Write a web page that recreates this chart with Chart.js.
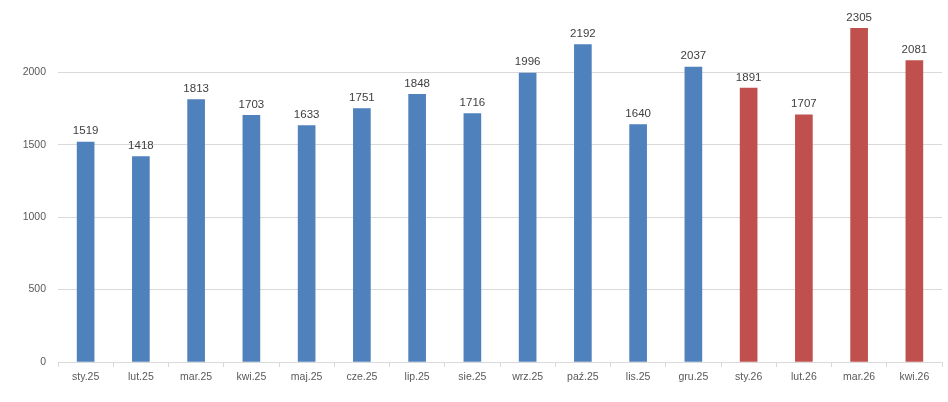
<!DOCTYPE html>
<html lang="pl">
<head>
  <meta charset="UTF-8" />
  <title>Miesięczne wartości</title>
  <script src="https://cdn.jsdelivr.net/npm/chart.js"></script>
  <style>
    html, body { margin: 0; padding: 0; background: #fff; }
    .chart-box { width: 948px; height: 402px; }
  </style>
</head>
<body>
  <div class="chart-box"><canvas id="chart"></canvas></div>
  <script>
    // months
    const labels2025 = ["sty.25", "lut.25", "mar.25", "kwi.25", "maj.25", "cze.25", "lip.25", "sie.25", "wrz.25", "paź.25", "lis.25", "gru.25"];
    const labels2026 = ["sty.26", "lut.26", "mar.26", "kwi.26"];
    const values2025 = [1519, 1418, 1813, 1703, 1633, 1751, 1848, 1716, 1996, 2192, 1640, 2037];
    const values2026 = [1891, 1707, 2305, 2081];
    const yTicks = [0, 500, 1000, 1500, 2000];

    const BLUE = "#4F81BD";
    const RED = "#C0504D";
    const FONT = "'Liberation Sans', Arial, sans-serif";

    const labels = labels2025.concat(labels2026);
    const values = values2025.concat(values2026);
    const colors = values2025.map(() => BLUE).concat(values2026.map(() => RED));

    // value above each bar
    const valueLabels = {
      id: "valueLabels",
      afterDatasetsDraw(chart) {
        const ctx = chart.ctx;
        const meta = chart.getDatasetMeta(0);
        ctx.save();
        ctx.font = "11.5px " + FONT;
        ctx.fillStyle = "#404040";
        ctx.textAlign = "center";
        ctx.textBaseline = "bottom";
        meta.data.forEach((bar, i) => {
          ctx.fillText(String(values[i]), bar.x, bar.y - 5);
        });
        ctx.restore();
      }
    };

    new Chart(document.getElementById("chart"), {
      type: "bar",
      data: {
        labels: labels,
        datasets: [{
          data: values,
          backgroundColor: colors,
          borderWidth: 0,
          barThickness: 17
        }]
      },
      options: {
        responsive: true,
        maintainAspectRatio: false,
        animation: false,
        layout: { padding: { top: 0, right: 6, left: 0, bottom: 0 } },
        plugins: {
          legend: { display: false },
          tooltip: { enabled: false }
        },
        scales: {
          x: {
            grid: {
              drawOnChartArea: false,
              drawTicks: true,
              tickLength: 5,
              color: "#d9d9d9",
              offset: true
            },
            border: { color: "#d9d9d9" },
            ticks: {
              color: "#595959",
              font: { family: FONT, size: 10.5 },
              padding: 4,
              maxRotation: 0,
              autoSkip: false
            },
            afterFit(axis) { axis.height = 40; }
          },
          y: {
            min: 0,
            max: 2500,
            afterBuildTicks(axis) {
              axis.ticks = yTicks.map(v => ({ value: v }));
            },
            grid: { color: "#d9d9d9", drawTicks: false },
            border: { display: false },
            ticks: {
              color: "#595959",
              font: { family: FONT, size: 10.5 },
              padding: 12,
              callback: v => String(v)
            },
            afterFit(axis) {
              axis.width = 58;
              axis.paddingTop = 0;
              axis.paddingBottom = 0;
            }
          }
        }
      },
      plugins: [valueLabels]
    });
  </script>
</body>
</html>
